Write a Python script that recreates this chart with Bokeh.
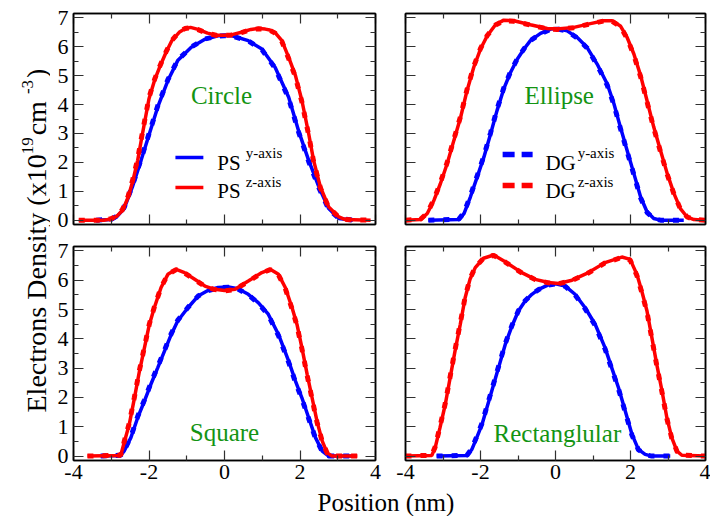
import math
from bokeh.plotting import figure
from bokeh.models import Range1d, LinearAxis, FixedTicker, Label
from bokeh.layouts import row, column
from bokeh.embed import file_html
from bokeh.resources import INLINE

# ---------------- data ----------------
XTICKS = [-4, -2, 0, 2, 4]
XMINOR = [-3, -1, 1, 3]
YTICKS = [0, 1, 2, 3, 4, 5, 6, 7]
YMINOR = [0.5, 1.5, 2.5, 3.5, 4.5, 5.5, 6.5]

# Circle
C_Y_X = [-3.4, -3.0, -2.85, -2.66, -2.44, -2.21, -1.99, -1.77, -1.5, -1.24, -0.88, -0.52, -0.17, 0.0, 0.2,
         0.63, 0.99, 1.34, 1.70, 1.96, 2.23, 2.5, 2.76, 3.03, 3.4]
C_Y_PS = [0, 0.02, 0.12, 0.4, 1.15, 2.07, 2.99, 3.91, 4.83, 5.52, 5.98, 6.26, 6.38, 6.39, 6.38,
          6.21, 5.92, 5.29, 4.25, 3.10, 2.07, 1.15, 0.4, 0.06, 0]
C_Y_DG = [0, 0.03, 0.14, 0.43, 1.19, 2.11, 3.03, 3.95, 4.86, 5.54, 5.99, 6.27, 6.37, 6.38, 6.37,
          6.20, 5.90, 5.26, 4.21, 3.06, 2.03, 1.12, 0.38, 0.06, 0]
C_Z_X = [-3.86, -3.2, -3.0, -2.85, -2.7, -2.55, -2.42, -2.3, -2.2, -2.1, -2.0, -1.85, -1.72, -1.55, -1.4,
         -1.2, -1.05, -0.9, -0.7, -0.45, -0.2, 0.0, 0.2, 0.45, 0.7, 0.9, 1.08, 1.2, 1.34, 1.52,
         1.7, 1.88, 2.05, 2.23, 2.36, 2.54, 2.76, 3.03, 3.2, 3.87]
C_Z_PS = [0, 0, 0.04, 0.14, 0.34, 0.8, 1.4, 2.07, 2.8, 3.5, 4.2, 4.85, 5.29, 5.8, 6.2,
          6.5, 6.62, 6.67, 6.6, 6.47, 6.40, 6.40, 6.42, 6.5, 6.6, 6.63, 6.61, 6.58, 6.49, 6.21,
          5.63, 5.0, 4.14, 2.99, 2.07, 1.15, 0.46, 0.11, 0.02, 0]
C_Z_DG = [0, 0, 0.05, 0.16, 0.37, 0.84, 1.45, 2.12, 2.85, 3.55, 4.24, 4.88, 5.31, 5.82, 6.21,
          6.51, 6.63, 6.66, 6.59, 6.46, 6.39, 6.39, 6.41, 6.49, 6.59, 6.62, 6.60, 6.57, 6.47, 6.18,
          5.59, 4.95, 4.09, 2.94, 2.03, 1.12, 0.44, 0.10, 0.02, 0]

# Ellipse
E_Y_X = [-3.39, -2.58, -2.44, -2.27, -2.09, -1.91, -1.73, -1.56, -1.38, -1.2, -1.02, -0.84, -0.67, -0.4, -0.13,
         0.04, 0.31, 0.58, 0.84, 1.11, 1.38, 1.56, 1.73, 1.91, 2.09, 2.27, 2.44, 2.62, 2.8, 3.42]
E_Y_PS = [0, 0.02, 0.23, 0.8, 1.49, 2.18, 2.99, 3.79, 4.54, 5.11, 5.57, 5.92, 6.21, 6.46, 6.61,
          6.63, 6.55, 6.32, 5.98, 5.4, 4.71, 4.02, 3.22, 2.41, 1.61, 0.8, 0.29, 0.06, 0, 0]
E_Y_DG = [0, 0.03, 0.26, 0.84, 1.53, 2.22, 3.03, 3.83, 4.57, 5.13, 5.58, 5.93, 6.21, 6.45, 6.6,
          6.62, 6.54, 6.3, 5.96, 5.37, 4.67, 3.98, 3.18, 2.37, 1.57, 0.77, 0.27, 0.05, 0, 0]
E_Z_X = [-4.0, -3.6, -3.42, -3.24, -3.07, -2.89, -2.71, -2.53, -2.36, -2.18, -2.0, -1.82, -1.6, -1.38, -1.11,
         -0.67, -0.22, 0.04, 0.49, 0.93, 1.29, 1.51, 1.73, 1.91, 2.09, 2.27, 2.44, 2.62, 2.8, 2.98,
         3.16, 3.33, 3.51, 3.69, 4.0]
E_Z_PS = [0, 0.02, 0.23, 0.69, 1.26, 1.95, 2.76, 3.56, 4.48, 5.29, 5.92, 6.38, 6.76, 6.92, 6.9,
          6.76, 6.63, 6.61, 6.67, 6.8, 6.9, 6.9, 6.72, 6.32, 5.75, 5.0, 4.14, 3.22, 2.41, 1.61,
          0.92, 0.4, 0.11, 0.02, 0]
E_Z_DG = [0, 0.03, 0.25, 0.72, 1.3, 1.99, 2.8, 3.6, 4.52, 5.32, 5.94, 6.39, 6.75, 6.9, 6.88,
          6.75, 6.62, 6.6, 6.66, 6.79, 6.89, 6.88, 6.7, 6.29, 5.71, 4.96, 4.1, 3.18, 2.37, 1.58,
          0.9, 0.39, 0.11, 0.02, 0]

# Square
S_Y_X = [-3.28, -2.75, -2.66, -2.48, -2.3, -2.12, -1.95, -1.77, -1.59, -1.41, -1.24, -0.97, -0.7, -0.44, -0.17,
         0.1, 0.36, 0.63, 0.9, 1.16, 1.43, 1.7, 1.88, 2.05, 2.23, 2.41, 2.59, 2.76, 3.4]
S_Y_PS = [0, 0.02, 0.17, 0.63, 1.31, 1.88, 2.45, 3.01, 3.58, 4.15, 4.61, 5.06, 5.46, 5.65, 5.75,
          5.77, 5.71, 5.52, 5.23, 4.84, 4.15, 3.24, 2.56, 1.99, 1.31, 0.63, 0.17, 0, 0]
S_Y_DG = [0, 0.03, 0.19, 0.66, 1.35, 1.92, 2.49, 3.05, 3.61, 4.18, 4.63, 5.07, 5.46, 5.64, 5.74,
          5.76, 5.7, 5.5, 5.21, 4.81, 4.11, 3.2, 2.52, 1.95, 1.28, 0.61, 0.16, 0, 0]
S_Z_X = [-3.63, -2.75, -2.66, -2.52, -2.39, -2.26, -2.12, -1.99, -1.86, -1.68, -1.5, -1.28, -1.06, -0.79, -0.52,
         -0.26, 0.0, 0.28, 0.63, 0.99, 1.21, 1.43, 1.61, 1.79, 1.92, 2.05, 2.19, 2.32, 2.45, 2.59,
         2.72, 2.85, 3.52]
S_Z_PS = [0, 0.02, 0.45, 1.1, 1.95, 2.85, 3.7, 4.49, 5.06, 5.75, 6.2, 6.37, 6.26, 6.03, 5.8,
          5.69, 5.65, 5.69, 5.97, 6.26, 6.37, 6.2, 5.75, 5.06, 4.49, 3.7, 2.79, 1.99, 1.19, 0.51,
          0.11, 0, 0]
S_Z_DG = [0, 0.03, 0.48, 1.14, 1.99, 2.89, 3.73, 4.51, 5.08, 5.76, 6.2, 6.36, 6.25, 6.02, 5.79,
          5.68, 5.64, 5.68, 5.96, 6.25, 6.36, 6.18, 5.72, 5.02, 4.45, 3.66, 2.75, 1.95, 1.16, 0.49,
          0.1, 0, 0]

# Rectangular
R_Y_X = [-3.17, -2.36, -2.23, -2.1, -1.96, -1.83, -1.7, -1.52, -1.34, -1.16, -0.99, -0.81, -0.63, -0.45, -0.19,
         0.0, 0.26, 0.52, 0.79, 1.06, 1.32, 1.5, 1.68, 1.86, 2.04, 2.21, 2.39, 2.57, 3.06]
R_Y_PS = [0, 0.02, 0.23, 0.63, 1.08, 1.65, 2.22, 3.01, 3.81, 4.44, 4.95, 5.29, 5.52, 5.69, 5.84,
          5.88, 5.8, 5.52, 5.06, 4.49, 3.7, 3.01, 2.33, 1.54, 0.74, 0.23, 0.06, 0, 0]
R_Y_DG = [0, 0.03, 0.26, 0.67, 1.12, 1.69, 2.26, 3.05, 3.84, 4.46, 4.96, 5.3, 5.52, 5.68, 5.83,
          5.87, 5.79, 5.5, 5.03, 4.45, 3.66, 2.97, 2.29, 1.5, 0.71, 0.22, 0.05, 0, 0]
R_Z_X = [-4.0, -3.3, -3.21, -3.08, -2.94, -2.81, -2.68, -2.54, -2.41, -2.28, -2.14, -1.92, -1.65, -1.34, -0.9,
         -0.54, -0.19, 0.08, 0.44, 0.88, 1.32, 1.77, 1.99, 2.17, 2.3, 2.44, 2.57, 2.7, 2.84, 2.97,
         3.1, 3.24, 3.37, 4.0]
R_Z_PS = [0, 0.02, 0.28, 0.97, 1.76, 2.67, 3.58, 4.49, 5.4, 6.03, 6.43, 6.75, 6.86, 6.63, 6.26,
          6.03, 5.92, 5.89, 6.0, 6.26, 6.6, 6.79, 6.71, 6.2, 5.63, 4.95, 4.04, 3.13, 2.22, 1.31,
          0.63, 0.17, 0.03, 0]
R_Z_DG = [0, 0.03, 0.31, 1.01, 1.8, 2.71, 3.62, 4.53, 5.43, 6.05, 6.44, 6.75, 6.85, 6.62, 6.25,
          6.02, 5.91, 5.88, 5.99, 6.25, 6.59, 6.78, 6.69, 6.16, 5.59, 4.91, 4.0, 3.09, 2.18, 1.28,
          0.61, 0.16, 0.03, 0]

SHAPES = ["Circle", "Ellipse", "Square", "Rectanglular"]

# ---------------- styling ----------------
FONT = "Liberation Serif"
BLUE = "#0000ff"
RED = "#ff0000"
GREEN = "#139413"
TICK_FS = "22px"
LW_PS = 3.5
LW_DG = 5
DASH = "6 9"
BASE_FIX = 0.28   # label baseline correction, fraction of the font size

# Times / Liberation Serif advance widths (per 1000 em)
W = {'E': 611, 'l': 278, 'e': 444, 'c': 444, 't': 278, 'r': 333, 'o': 500, 'n': 500, 's': 389,
     ' ': 250, 'D': 722, 'i': 278, 'y': 500, '(': 333, 'x': 500, '1': 500, '0': 500, '9': 500,
     'm': 778, '-': 333, '3': 500, ')': 333}


def tw(s, size):
    return sum(W.get(ch, 500) for ch in s) * size / 1000.0


def text_label(x, y, text, size, color="black", align="left", angle=0.0):
    off = BASE_FIX * size
    kw = {}
    if angle:
        kw["x_offset"] = -off
    else:
        kw["y_offset"] = off
    return Label(x=x, y=y, text=text, text_font=FONT, text_font_size=f"{size}px",
                 text_color=color, text_align=align, text_baseline="alphabetic",
                 angle=angle, **kw)


def style_axis(ax, labels):
    ax.axis_line_color = "black"
    ax.axis_line_width = 1.5
    ax.major_tick_in = 10
    ax.major_tick_out = 0
    ax.minor_tick_in = 5
    ax.minor_tick_out = 0
    ax.major_tick_line_color = "#303030"
    ax.minor_tick_line_color = "#303030"
    ax.major_tick_line_width = 1.2
    ax.minor_tick_line_width = 1.2
    if labels:
        ax.major_label_text_font = FONT
        ax.major_label_text_font_size = TICK_FS
        ax.major_label_text_color = "black"
    else:
        ax.major_label_text_color = None
        ax.major_label_text_font_size = "1px"
        ax.major_label_standoff = 0


def make_panel(width, height, left, right, top, bottom, xlabels, ylabels):
    p = figure(width=width, height=height, x_range=Range1d(-4, 4), y_range=Range1d(-0.15, 7.15),
               output_backend="svg", toolbar_location=None, title=None,
               x_axis_location=None, y_axis_location=None,
               min_border_left=left, min_border_right=right,
               min_border_top=top, min_border_bottom=bottom)
    p.grid.visible = False
    p.outline_line_color = "black"
    p.outline_line_width = 1.5
    p.background_fill_color = "white"
    p.border_fill_color = "white"
    for loc in ("below", "above"):
        ax = LinearAxis(ticker=FixedTicker(ticks=XTICKS, minor_ticks=XMINOR))
        show = xlabels and loc == "below"
        style_axis(ax, show)
        if show:
            ax.major_label_standoff = 4
            ax.major_label_overrides = {t: str(t) for t in XTICKS}
        p.add_layout(ax, loc)
    for loc in ("left", "right"):
        ax = LinearAxis(ticker=FixedTicker(ticks=YTICKS, minor_ticks=YMINOR))
        show = ylabels and loc == "left"
        style_axis(ax, show)
        if show:
            ax.major_label_standoff = 5
        p.add_layout(ax, loc)
    return p


def draw_curves(p, yx, yps, ydg, zx, zps, zdg):
    p.line(yx, ydg, line_color=BLUE, line_width=LW_DG, line_dash=DASH)
    p.line(yx, yps, line_color=BLUE, line_width=LW_PS)
    p.line(zx, zdg, line_color=RED, line_width=LW_DG, line_dash=DASH)
    p.line(zx, zps, line_color=RED, line_width=LW_PS)


def shape_label(p, text, x, y):
    p.add_layout(text_label(x, y, text, 25, color=GREEN, align="center"))


def legend_entry(p, x0, x1, y_line, color, dash, width, main, sup, xt, yb, xs, ys):
    p.line([x0, x1], [y_line, y_line], line_color=color, line_width=width, line_dash=dash)
    p.add_layout(text_label(xt, yb, main, 21))
    p.add_layout(text_label(xs, ys, sup, 15))


# ---------------- panels ----------------
tl = make_panel(340, 235, 23, 15, 13, 11, False, True)
tr = make_panel(320, 235, 15, 5, 13, 11, False, False)
bl = make_panel(340, 255, 23, 15, 11, 30, True, True)
br = make_panel(320, 255, 15, 5, 11, 30, True, False)

draw_curves(tl, C_Y_X, C_Y_PS, C_Y_DG, C_Z_X, C_Z_PS, C_Z_DG)
draw_curves(tr, E_Y_X, E_Y_PS, E_Y_DG, E_Z_X, E_Z_PS, E_Z_DG)
draw_curves(bl, S_Y_X, S_Y_PS, S_Y_DG, S_Z_X, S_Z_PS, S_Z_DG)
draw_curves(br, R_Y_X, R_Y_PS, R_Y_DG, R_Z_X, R_Z_PS, R_Z_DG)

shape_label(tl, SHAPES[0], -0.08, 4.07)
shape_label(tr, SHAPES[1], 0.1, 4.07)
shape_label(bl, SHAPES[2], 0.0, 0.56)
shape_label(br, SHAPES[3], 0.05, 0.52)

legend_entry(tl, -1.30, -0.56, 2.17, BLUE, "solid", 3.5, "PS", "y-axis", -0.19, 1.79, 0.56, 2.17)
legend_entry(tl, -1.30, -0.56, 1.13, RED, "solid", 3.5, "PS", "z-axis", -0.19, 0.79, 0.56, 1.17)
legend_entry(tr, -1.41, -0.61, 2.27, BLUE, "12 7", 5.5, "DG", "y-axis", -0.27, 1.79, 0.59, 2.17)
legend_entry(tr, -1.41, -0.61, 1.20, RED, "12 7", 5.5, "DG", "z-axis", -0.27, 0.79, 0.59, 1.17)

# ---------------- outer label strips ----------------
def strip(width, height):
    s = figure(width=width, height=height, x_range=Range1d(0, width), y_range=Range1d(0, height),
               output_backend="svg", toolbar_location=None, title=None,
               x_axis_location=None, y_axis_location=None, min_border=0)
    s.outline_line_color = None
    s.grid.visible = False
    return s


ylab = strip(50, 490)
F, FS = 28, 17
parts = [("Electrons Density (x10", F, 0), ("19", FS, 12), (" cm", F, 0), ("-3", FS, 12), (")", F, 0)]
ypos = 490 - 412
for txt, size, raise_ in parts:
    ylab.add_layout(text_label(44 - raise_, ypos, txt, size, angle=math.pi / 2))
    ypos += tw(txt, size) + (2 if size == FS else 0)

xlab = strip(710, 26)
xlab.add_layout(text_label(317, 7, "Position (nm)", 25))

layout = column(row(ylab, column(row(tl, tr), row(bl, br))), xlab)

open("out.html", "w").write(file_html(layout, INLINE))
